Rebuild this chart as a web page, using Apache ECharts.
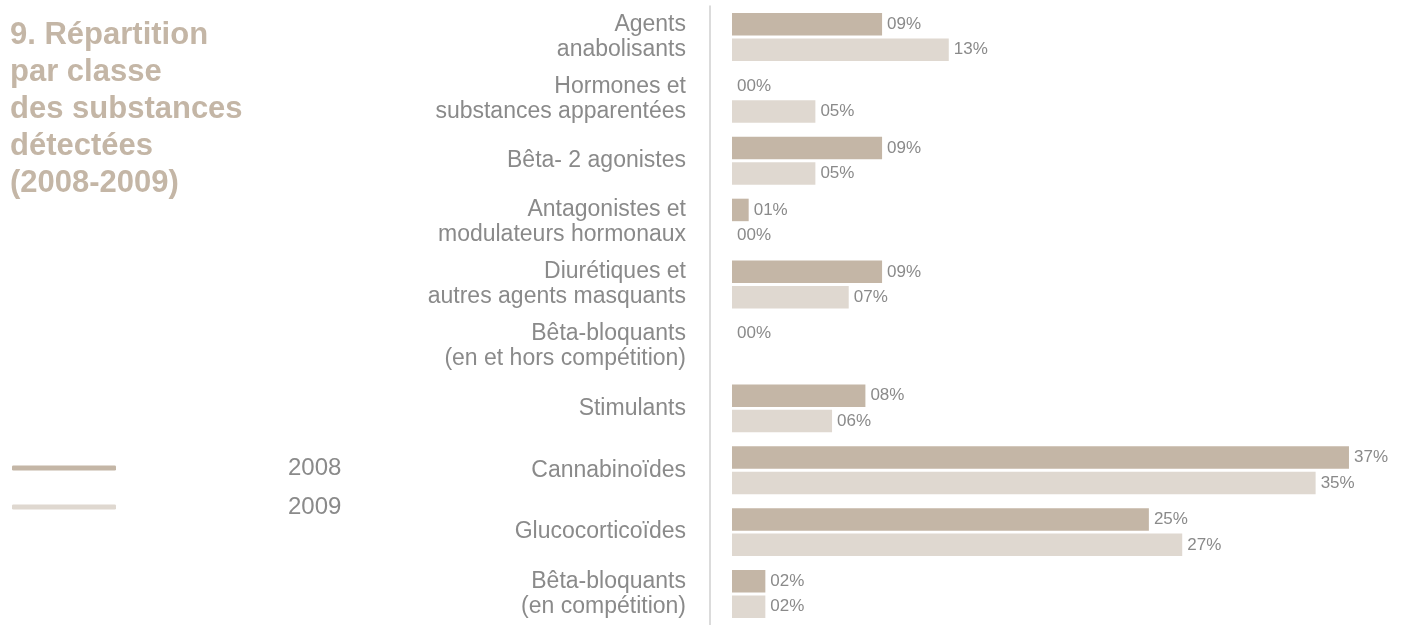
<!DOCTYPE html>
<html lang="fr">
<head>
<meta charset="utf-8">
<title>Répartition par classe des substances détectées (2008-2009)</title>
<script src="https://cdn.jsdelivr.net/npm/echarts@6/dist/echarts.min.js"></script>
<style>
  html, body { margin: 0; padding: 0; background: #ffffff; }
  #chart { width: 1421px; height: 625px; }
</style>
</head>
<body>
<div id="chart"></div>
<script>
// Substance classes, listed top to bottom
const categories = [
  'Agents\nanabolisants',
  'Hormones et\nsubstances apparentées',
  'Bêta- 2 agonistes',
  'Antagonistes et\nmodulateurs hormonaux',
  'Diurétiques et\nautres agents masquants',
  'Bêta-bloquants\n(en et hors compétition)',
  'Stimulants',
  'Cannabinoïdes',
  'Glucocorticoïdes',
  'Bêta-bloquants\n(en compétition)'
];

// Share of detected substances, in percent
const values2008 = [9, 0, 9, 1, 9, 0, 8, 37, 25, 2];
const values2009 = [13, 5, 5, 0, 7, null, 6, 35, 27, 2];

const seriesNames = ['2008', '2009'];

const titleText = '9. Répartition\npar classe\ndes substances\ndétectées\n(2008-2009)';

const TAN = '#c4b6a6';
const SAND = '#dfd8d0';
const GREY = '#8a8a8a';
const FONT = '"Liberation Sans", Arial, Helvetica, sans-serif';

// Two-digit percentage, e.g. 9 -> "09%"
const pct = p => String(Math.round(p.value)).padStart(2, '0') + '%';

const valueLabel = {
  show: true,
  position: 'right',
  distance: 5,
  formatter: pct,
  color: GREY,
  fontSize: 17,
  fontFamily: FONT
};

const chart = echarts.init(document.getElementById('chart'), null, { renderer: 'canvas' });

chart.setOption({
  animation: false,
  backgroundColor: '#ffffff',
  title: {
    text: titleText,
    left: 5,
    top: 12,
    textStyle: {
      color: TAN,
      fontSize: 31,
      fontWeight: 'bold',
      lineHeight: 37,
      fontFamily: FONT
    }
  },
  legend: {
    orient: 'vertical',
    left: 12,
    top: 456,
    padding: 0,
    itemWidth: 104,
    itemHeight: 5,
    itemGap: 15,
    icon: 'roundRect',
    selectedMode: false,
    data: seriesNames,
    textStyle: {
      color: GREY,
      fontSize: 24,
      lineHeight: 24,
      fontFamily: FONT,
      padding: [0, 0, 0, 167]
    }
  },
  grid: {
    left: 732,
    top: 6,
    width: 667,
    height: 627.5,
    containLabel: false
  },
  xAxis: {
    type: 'value',
    min: 0,
    max: 40,
    show: false
  },
  yAxis: {
    type: 'category',
    data: categories,
    inverse: true,
    offset: 22,
    axisLine: { show: true, onZero: false, lineStyle: { color: '#cfcfcf', width: 1.5 } },
    axisTick: { show: false },
    splitLine: { show: false },
    axisLabel: {
      margin: 24,
      color: GREY,
      fontSize: 23,
      lineHeight: 25,
      fontFamily: FONT,
      align: 'right'
    }
  },
  series: [
    {
      name: seriesNames[0],
      type: 'bar',
      data: values2008,
      barWidth: 22.5,
      barGap: '13%',
      itemStyle: { color: TAN },
      label: valueLabel
    },
    {
      name: seriesNames[1],
      type: 'bar',
      data: values2009,
      barWidth: 22.5,
      barGap: '13%',
      itemStyle: { color: SAND },
      label: valueLabel
    }
  ]
});
</script>
</body>
</html>
